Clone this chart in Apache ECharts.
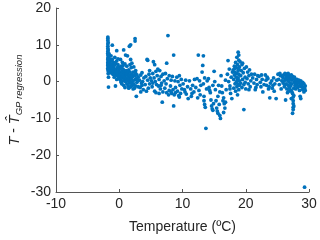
<!DOCTYPE html>
<html><head><meta charset="utf-8">
<script src="https://cdn.jsdelivr.net/npm/echarts@6/dist/echarts.min.js"></script>
<style>html,body{margin:0;padding:0;background:#fff}#c{width:320px;height:240px}</style>
</head><body><div id="c"></div>
<script>
const xTicks = [-10, 0, 10, 20, 30];
const yTicks = [-30, -20, -10, 0, 10, 20];
// [temperature, residual] pairs
const coldPoints = [
[-1.8,12.1],[-1.8,11.7],[-1.8,11.2],[-1.75,10.6],[-1.8,10.2],[-1.8,9.6],[-1.8,9.0],[-1.75,8.6],[-1.8,8.2],[-1.8,7.7],[-1.8,7.2],[-1.7,6.8],[-1.8,6.4],[-1.8,6.0],[-1.75,5.6],[-1.8,5.2],[-1.8,4.8],[-1.8,4.4],[-1.75,4.0],[-1.8,3.6],[-1.8,3.2],[-1.7,2.8],[-1.75,2.2],[-1.7,1.2],[-1.7,-1.5],[-1.6,7.5],[-1.5,6.2],[-1.5,5.0],[-1.5,4.2],[-1.4,3.8],[-1.5,3.0],[-1.4,2.4],[-1.3,7.0],[-1.3,5.6],[-1.2,4.6],[-1.2,3.4],[-1.2,2.8],[-1.1,9.9],[-1.1,6.0],[-1.0,4.0],[-1.0,3.2],[-1.0,2.0],[-1.6,5.5],[-1.6,3.5],[-1.4,4.8],[-1.3,4.0],
[-0.9,5.2],[-0.9,3.6],[-0.8,2.6],[-0.8,4.4],[-0.7,6.6],[-0.7,3.0],[-0.6,2.2],[-0.6,4.8],[-0.5,3.4],[-0.5,1.8],[-0.4,8.4],[-0.4,5.6],[-0.4,2.8],[-0.3,1.6],[-0.3,3.8],[-0.2,2.4],[-0.2,4.6],[-0.1,1.2],[-0.1,3.0],[0.0,2.0],[-0.8,1.2],[-0.6,-1.2],[-0.4,0.6],[-0.2,6.2],[-0.9,2.0],[-0.7,5.0],[-0.5,2.6],[-0.3,2.2],[-0.1,4.0],[0.0,0.8],
[0.1,3.4],[0.1,1.8],[0.2,2.6],[0.2,0.4],[0.3,4.2],[0.3,1.2],[0.4,2.0],[0.4,-0.6],[0.5,5.2],[0.5,2.8],[0.5,1.0],[0.6,0.2],[0.6,3.4],[0.7,8.6],[0.7,1.6],[0.7,-1.0],[0.8,2.4],[0.8,0.6],[0.9,4.8],[0.9,1.2],[0.9,-1.6],[1.0,7.2],[1.0,2.0],[1.0,0.0],[0.2,6.0],[0.4,3.6],[0.6,1.6],[0.8,3.0],[0.3,-0.2],[0.6,4.4],
[1.1,3.0],[1.1,0.8],[1.2,1.8],[1.2,-0.6],[1.3,7.0],[1.3,2.4],[1.3,0.2],[1.4,1.2],[1.4,-1.2],[1.5,3.2],[1.5,0.6],[1.6,9.6],[1.6,1.8],[1.6,-0.4],[1.7,2.6],[1.7,0.2],[1.8,10.0],[1.8,6.0],[1.8,1.4],[1.8,-1.4],[1.9,3.8],[1.9,0.8],[2.0,5.0],[2.0,2.0],[2.0,-0.8],[1.2,4.2],[1.5,-1.8],[1.7,4.6],[1.9,-0.2],[1.4,2.8],
[2.1,1.4],[2.1,-1.0],[2.2,2.6],[2.2,0.2],[2.3,4.0],[2.3,-0.6],[2.4,1.6],[2.4,-1.8],[2.5,11.7],[2.5,11.0],[2.5,0.6],[2.6,2.2],[2.6,-1.2],[2.7,-4.0],[2.7,0.8],[2.8,1.8],[2.8,-0.2],[2.9,0.2],[3.0,1.2],[3.0,-1.4],[2.2,-2.0],[2.6,3.0],
[3.2,0.4],[3.3,-1.6],[3.4,1.8],[3.5,-0.4],[3.6,2.4],[3.7,0.0],[3.8,-2.2],[3.9,1.0],[3.4,-2.8],[3.6,-1.0]
];
const midPoints = [
[4.1,-0.8],[4.2,1.4],[4.4,6.0],[4.5,5.8],[4.5,0.4],[4.6,-1.8],[4.7,2.0],[4.8,-0.6],[4.9,1.0],[4.3,-2.6],[4.8,3.0],
[5.1,0.2],[5.2,-1.4],[5.3,2.2],[5.4,5.4],[5.5,1.0],[5.6,4.6],[5.6,-2.6],[5.7,0.0],[5.8,2.8],[5.9,-0.8],[6.0,1.6],[5.3,-0.4],[5.8,-3.0],
[6.1,3.4],[6.2,-1.2],[6.3,0.6],[6.4,3.0],[6.5,-2.0],[6.6,1.4],[6.7,-0.4],[6.8,-5.6],[6.9,2.0],[6.9,-2.8],[6.3,-3.2],[6.6,-1.0],
[7.1,0.2],[7.2,-1.8],[7.3,2.2],[7.5,5.0],[7.5,-3.0],[7.6,0.8],[7.7,12.5],[7.8,-3.6],[7.9,1.6],[7.4,-0.6],[7.9,-2.4],
[8.1,-1.2],[8.2,0.4],[8.3,-3.2],[8.4,1.4],[8.5,-2.2],[8.6,7.2],[8.6,-6.6],[8.7,-3.6],[8.8,0.2],[8.9,-1.6],[8.2,-2.8],[8.9,-3.0],
[9.1,1.2],[9.2,-2.6],[9.3,0.0],[9.4,-3.8],[9.5,1.6],[9.6,-1.0],[9.7,-3.2],[9.8,0.6],[9.9,-2.0],[9.5,-4.2],
[10.1,-0.6],[10.3,-2.2],[10.5,0.4],[10.6,-3.4],[10.8,-1.4],[10.9,-4.6],[10.4,-2.8],
[11.1,0.2],[11.3,-2.0],[11.4,-4.0],[11.6,-1.0],[11.8,-2.8],[11.9,0.6],[11.5,-3.2],
[12.1,-1.6],[12.3,0.8],[12.5,7.2],[12.6,-2.4],[12.7,0.2],[12.8,-3.6],[12.9,-1.0],[12.4,-4.4],
[13.1,2.6],[13.2,4.4],[13.3,7.0],[13.3,-0.6],[13.4,-4.0],[13.5,1.0],[13.5,-6.2],[13.6,-7.0],[13.7,-12.7],[13.8,-2.0],[13.9,0.2],[13.4,-5.2],
[14.1,0.8],[14.2,-1.6],[14.4,-3.0],[14.5,-5.0],[14.6,-6.6],[14.7,-7.4],[14.8,-1.0],[14.9,-6.0],[14.3,-2.4],[14.8,-7.8],
[15.0,2.8],[15.1,0.0],[15.2,-2.2],[15.3,-5.2],[15.4,-7.2],[15.5,-8.0],[15.6,-8.6],[15.7,-1.0],[15.8,-6.2],[15.9,-9.2],[16.0,-10.0],[15.6,-4.0],[15.9,-2.8],
[16.1,1.6],[16.2,-1.2],[16.3,-3.0],[16.4,-5.2],[16.5,-8.4],[16.6,-6.0],[16.7,-7.2],[16.8,0.4],[16.9,-2.2],[16.5,-4.4],[16.8,-5.6]
];
const warmPoints = [
[17.1,2.0],[17.2,5.7],[17.3,0.0],[17.4,3.4],[17.5,-1.2],[17.6,-3.2],[17.7,1.2],[17.8,-4.6],[17.9,2.6],[17.5,-2.0],
[18.0,3.2],[18.1,0.6],[18.1,-1.8],[18.2,4.2],[18.2,1.8],[18.3,-0.6],[18.3,2.6],[18.4,5.2],[18.4,-2.6],[18.5,1.2],[18.5,3.8],[18.5,-0.2],[18.6,6.6],[18.6,2.2],[18.6,-1.4],[18.7,4.6],[18.7,0.4],[18.7,-3.6],[18.8,8.0],[18.8,3.0],[18.8,1.0],[18.8,-0.8],[18.9,7.2],[18.9,5.8],[18.9,2.0],[18.9,-2.2],[19.0,4.0],[19.0,0.2],[19.0,-1.0],[18.6,0.0],[18.3,3.6],[18.9,3.4],
[19.1,5.4],[19.2,1.6],[19.2,-0.4],[19.3,3.0],[19.4,-1.6],[19.4,4.6],[19.5,0.6],[19.6,2.4],[19.7,-7.6],[19.7,-0.8],[19.8,3.6],[19.9,1.2],[20.0,-2.0],[19.5,5.0],[19.9,-0.2],
[20.1,4.0],[20.2,0.8],[20.3,2.6],[20.4,-0.6],[20.5,1.6],[20.6,3.2],[20.7,-1.4],[20.8,0.2],[20.9,2.0],[20.5,-2.2],
[21.1,1.0],[21.3,-0.4],[21.4,2.0],[21.6,-1.6],[21.7,0.6],[21.9,1.6],[21.5,-2.2],[21.8,-0.8],
[22.1,1.4],[22.3,-0.2],[22.4,-1.4],[22.6,0.6],[22.7,-2.8],[22.9,-0.8],[22.5,1.8],
[23.1,1.8],[23.2,0.4],[23.3,-1.0],[23.5,0.8],[23.6,-2.0],[23.8,-4.4],[23.9,-0.4],[23.4,1.2],[23.7,-1.4],
[24.1,0.2],[24.2,-1.8],[24.4,1.0],[24.5,-2.6],[24.6,-0.6],[24.8,-4.6],[24.9,0.4],[24.3,-1.0],
[25.1,2.0],[25.2,0.6],[25.3,-0.8],[25.5,1.6],[25.6,-2.0],[25.7,0.2],[25.8,1.4],[25.9,-0.4],[25.4,2.2],[25.9,1.0],
[26.0,1.8],[26.1,0.2],[26.1,-1.4],[26.2,2.2],[26.3,-5.0],[26.3,0.8],[26.4,1.6],[26.4,-0.6],[26.5,2.0],[26.5,-2.0],[26.6,0.4],[26.6,1.2],[26.7,-1.0],[26.7,2.2],[26.8,0.0],[26.8,1.6],[26.9,-1.8],[26.9,0.8],[27.0,1.4],[27.0,-0.4],[26.2,-0.8],[26.6,-3.0],[26.8,-2.6],
[27.1,1.0],[27.1,-1.2],[27.2,1.8],[27.2,-2.4],[27.3,0.4],[27.3,-0.6],[27.4,1.4],[27.4,-3.2],[27.5,-4.2],[27.5,-5.2],[27.5,-6.0],[27.5,-7.0],[27.5,-7.6],[27.4,-8.6],[27.6,-6.6],[27.6,0.8],[27.6,-1.8],[27.7,-0.2],[27.7,1.2],[27.8,-1.0],[27.8,0.6],[27.9,-2.0],[27.9,-0.4],[28.0,0.2],[27.3,-2.8],[27.6,-3.8],[27.2,-4.6],
[28.1,-0.8],[28.1,0.6],[28.2,-1.6],[28.3,-0.2],[28.4,0.4],[28.5,-1.2],[28.5,-2.4],[28.6,-0.6],[28.7,-4.6],[28.7,0.2],[28.8,-1.4],[28.9,-0.8],[29.0,-2.2],[29.0,-0.2],[29.1,-1.6],[29.2,-2.8],[29.2,-0.6],[29.3,-1.8],[29.4,-1.2],[29.4,-2.4],[29.3,-28.7],[28.6,-4.0]
];
const allPoints = coldPoints.concat(midPoints, warmPoints);
const txt = '#262626';
const font = 'Liberation Sans, Arial, Helvetica, sans-serif';
const fs = 14;
const chart = echarts.init(document.getElementById('c'), null, {renderer: 'canvas'});
chart.setOption({
  animation: false,
  grid: {left: 56, right: 11, top: 8, bottom: 48, containLabel: false, outerBoundsMode: 'none'},
  xAxis: {
    type: 'value', min: xTicks[0], max: xTicks[xTicks.length-1], interval: 10,
    name: 'Temperature (ºC)', nameLocation: 'middle', nameGap: 28, nameMoveOverlap: false,
    nameTextStyle: {color: txt, fontSize: fs, fontFamily: font},
    axisLine: {show: true, onZero: false, lineStyle: {color: '#555', width: 1}},
    axisTick: {show: true, inside: true, length: 3, lineStyle: {color: '#555'}},
    axisLabel: {color: txt, fontSize: fs, fontFamily: font, margin: 5},
    splitLine: {show: false}
  },
  yAxis: {
    type: 'value', min: yTicks[0], max: yTicks[yTicks.length-1], interval: 10,
    name: '{i|T} - {i|T\u0302}{sub|GP regression}', nameLocation: 'middle', nameGap: 32, nameMoveOverlap: false,
    nameTextStyle: {color: txt, fontSize: fs, fontFamily: font,
      rich: {
        i: {fontStyle: 'italic', fontSize: 14.5, fontFamily: font, color: txt},
        sub: {fontStyle: 'italic', fontSize: 9.5, fontFamily: font, color: txt, padding: [9, 0, 0, 0]}
      }},
    axisLine: {show: true, onZero: false, lineStyle: {color: '#555', width: 1}},
    axisTick: {show: true, inside: true, length: 3, lineStyle: {color: '#555'}},
    axisLabel: {color: txt, fontSize: fs, fontFamily: font, margin: 5},
    splitLine: {show: false}
  },
  series: [{
    type: 'scatter', data: allPoints, symbolSize: 3.8,
    itemStyle: {color: '#0072BD', opacity: 1}
  }]
});
</script></body></html>
